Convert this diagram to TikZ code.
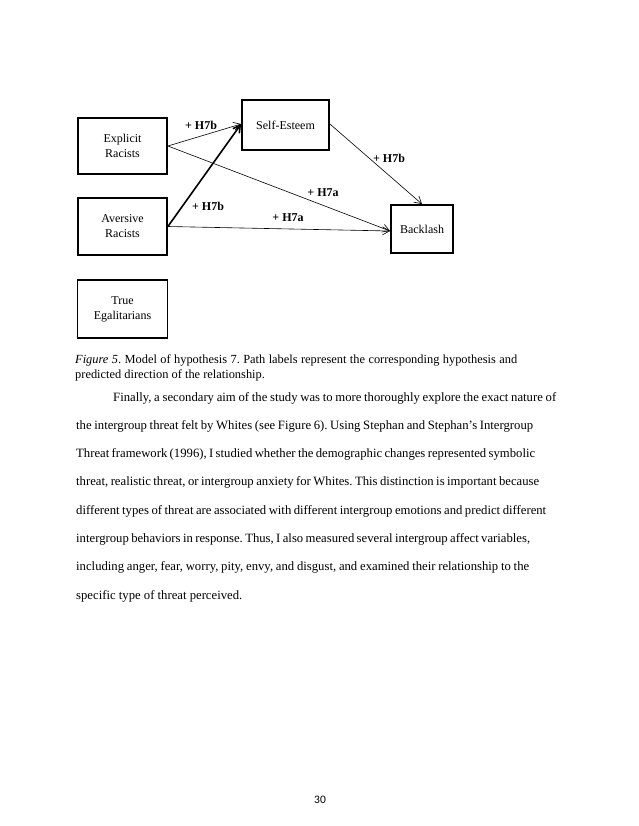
\documentclass[tikz,border=0pt]{standalone}
\usepackage{fontspec}
\setmainfont{Liberation Serif}
\newfontfamily\pagenumfont{Carlito}
\usetikzlibrary{arrows.meta}
\frenchspacing
\hbadness=10000
\newcommand{\fitline}[2]{\hbox to #1pt{#2}}
\begin{document}
\begin{tikzpicture}[x=1pt,y=-1pt,
  boxnode/.style={draw,line width=1.8pt,align=center,inner sep=0pt,font=\fontsize{12}{15}\selectfont},
  pathlbl/.style={font=\fontsize{12}{14}\selectfont\bfseries,inner sep=0pt},
  arr/.style={line width=0.6pt,-{Straight Barb[length=7pt,width=8pt]}},
  bodyline/.style={anchor=base west,inner sep=0pt,font=\fontsize{12.7}{15}\selectfont},
  capline/.style={anchor=base west,inner sep=0pt,font=\fontsize{12.4}{14}\selectfont}]
\useasboundingbox[fill=white] (0,0) rectangle (638,826);
% boxes
\node[boxnode,minimum width=89pt,minimum height=56pt] (ex) at (122.5,146) {Explicit\\Racists};
\node[boxnode,minimum width=87pt,minimum height=50pt] (se) at (285.5,125) {Self-Esteem};
\node[boxnode,minimum width=89pt,minimum height=57pt] (av) at (122.5,226.5) {Aversive\\Racists};
\node[boxnode,minimum width=62pt,minimum height=48pt] (bl) at (422,229) {Backlash};
\node[boxnode,minimum width=90pt,minimum height=58pt] (te) at (122.5,309) {True\\Egalitarians};
% arrows
\draw[arr] (ex.east) -- ([yshift=1pt]se.west);
\draw[arr] (ex.east) -- ([yshift=-2pt]bl.west);
\draw[arr,line width=1.6pt] (av.east) -- ([yshift=1pt]se.west);
\draw[arr] (av.east) -- ([yshift=-2pt]bl.west);
\draw[arr] ([yshift=1pt]se.east) -- (bl.north);
% labels
\node[pathlbl] (l1) at (201,125) {+ H7b};
\node[pathlbl] (l2) at (389,158) {+ H7b};
\node[pathlbl] (l3) at (323,193) {+ H7a};
\node[pathlbl] (l4) at (208,206) {+ H7b};
\node[pathlbl] (l5) at (288,218) {+ H7a};
% caption
\node[capline] (c1) at (75,363) {\fitline{442}{\textit{Figure 5}. Model of hypothesis 7. Path labels represent the corresponding hypothesis and}};
\node[capline] (c2) at (75,378) {predicted direction of the relationship.};
% body text
\node[bodyline] (b1) at (113,401) {\fitline{443}{Finally, a secondary aim of the study was to more thoroughly explore the exact nature of}};
\node[bodyline] (b2) at (76,429.3) {\fitline{457}{the intergroup threat felt by Whites (see Figure 6). Using Stephan and Stephan’s Intergroup}};
\node[bodyline] (b3) at (76,457.6) {\fitline{459}{Threat framework (1996), I studied whether the demographic changes represented symbolic}};
\node[bodyline] (b4) at (76,485.9) {\fitline{463}{threat, realistic threat, or intergroup anxiety for Whites. This distinction is important because}};
\node[bodyline] (b5) at (76,514.2) {\fitline{470}{different types of threat are associated with different intergroup emotions and predict different}};
\node[bodyline] (b6) at (76,542.5) {\fitline{454}{intergroup behaviors in response. Thus, I also measured several intergroup affect variables,}};
\node[bodyline] (b7) at (76,570.8) {\fitline{453}{including anger, fear, worry, pity, envy, and disgust, and examined their relationship to the}};
\node[bodyline] (b8) at (76,599.1) {specific type of threat perceived.};
% page number
\node[font=\pagenumfont\fontsize{11.5}{13}\selectfont,inner sep=0pt] (pn) at (320,800) {30};
\end{tikzpicture}
\end{document}
